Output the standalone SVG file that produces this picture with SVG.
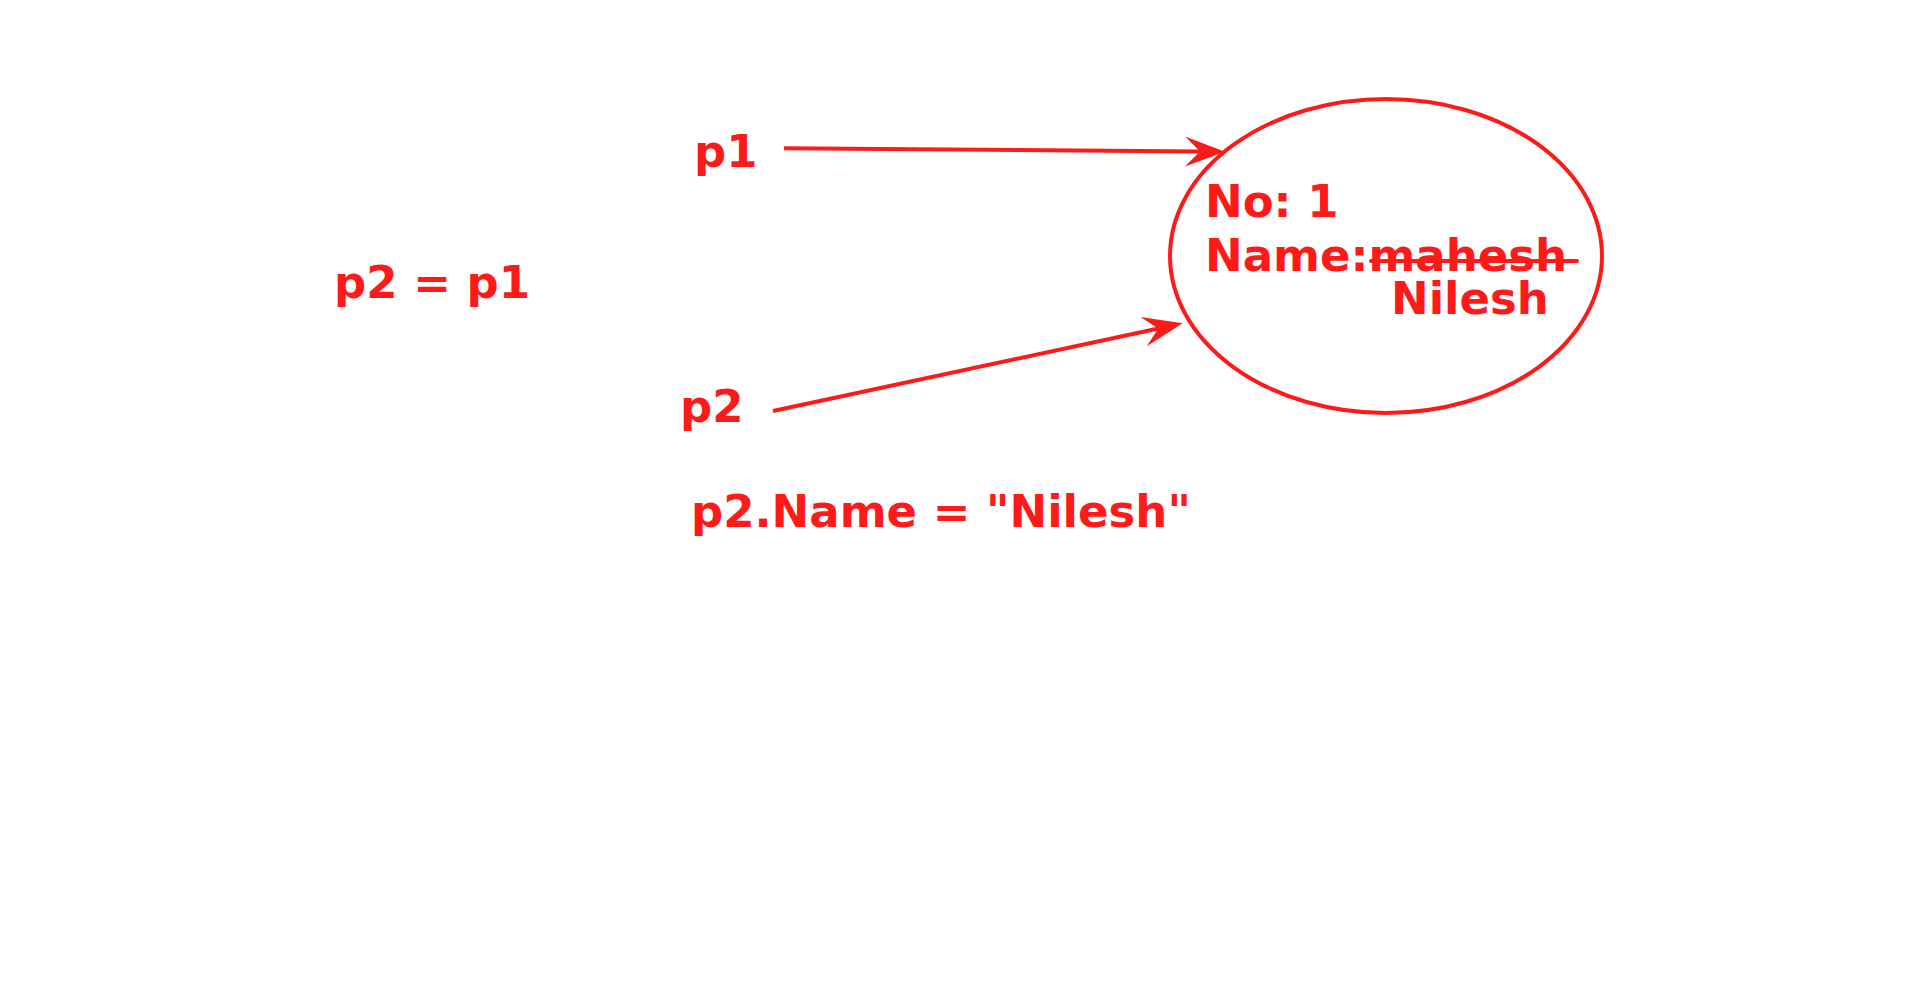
<svg xmlns="http://www.w3.org/2000/svg" width="1920" height="991" viewBox="0 0 1920 991">
<style>
text{font-family:"DejaVu Sans","Liberation Sans",sans-serif;font-weight:bold;font-size:45px;fill:#ff1a1a}
.ln{stroke:#ff1a1a;stroke-width:4;fill:none}
</style>
<defs>
<marker id="arr" markerUnits="userSpaceOnUse" viewBox="-20 -20 50 40" markerWidth="50" markerHeight="40" refX="0" refY="0" orient="auto">
<path d="M25,0 L-15,-15 L0,0 L-15,15 Z" fill="#ff1a1a"/>
</marker>
</defs>
<rect width="1920" height="991" fill="#ffffff"/>
<g id="labels">
<text x="694" y="167">p1</text>
<text x="680" y="421.7">p2</text>
<text x="334" y="298">p2 = p1</text>
<text x="691" y="527.3">p2.Name = "Nilesh"</text>
</g>
<g id="object">
<ellipse class="ln" cx="1386" cy="256" rx="216" ry="157"/>
<text x="1205" y="216.7">No: 1</text>
<text x="1205" y="270.7">Name:mahesh</text>
<line class="ln" x1="1371" y1="261" x2="1577" y2="261" stroke-linecap="round"/>
<text x="1391" y="314.3">Nilesh</text>
</g>
<g id="connectors">
<line class="ln" x1="784" y1="148.3" x2="1200" y2="151.5" marker-end="url(#arr)"/>
<line class="ln" x1="773" y1="411" x2="1158.3" y2="328.5" marker-end="url(#arr)"/>
</g>
</svg>
